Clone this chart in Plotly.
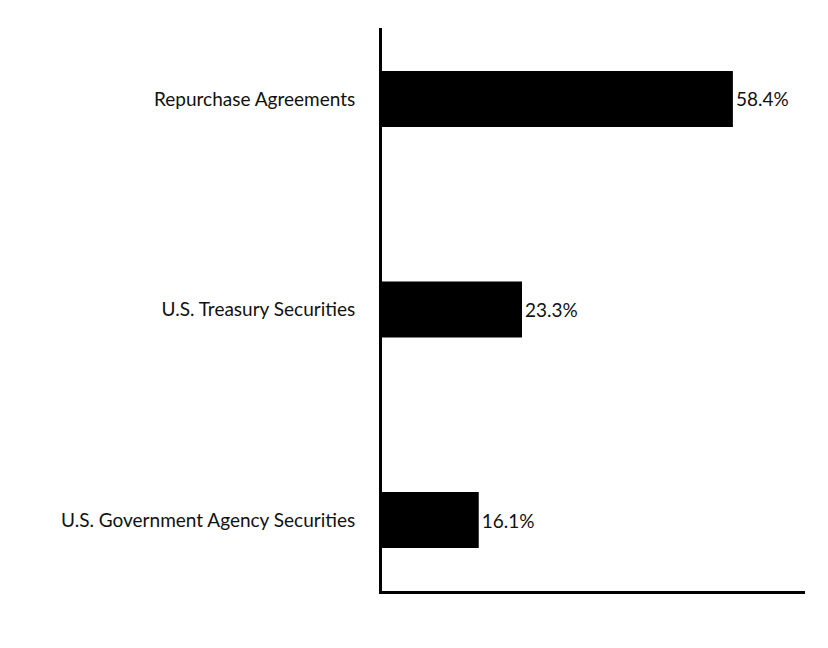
import plotly.graph_objects as go

categories = ["Repurchase Agreements", "U.S. Treasury Securities", "U.S. Government Agency Securities"]
values = [58.4, 23.3, 16.1]
labels = ["58.4%", "23.3%", "16.1%"]

fig = go.Figure(go.Bar(
    x=values, y=categories, orientation="h",
    marker=dict(color="black", line=dict(width=0)),
    width=0.266,
    text=labels, textposition="outside", cliponaxis=False,
    textfont=dict(size=19, color="#111"),
))
fig.update_layout(
    width=828, height=648,
    margin=dict(l=374, r=31, t=20, b=65),
    plot_bgcolor="white", paper_bgcolor="white",
    font=dict(family="Lato, Noto Sans, sans-serif", size=19, color="#111"),
    showlegend=False,
)
fig.update_xaxes(range=[0, 70.4], showgrid=False, showticklabels=False, ticks="",
                 showline=True, linecolor="black", linewidth=3, zeroline=False)
fig.update_yaxes(range=[2.337, -0.337], showgrid=False, ticks="", ticklabelstandoff=20,
                 showline=True, linecolor="black", linewidth=3, zeroline=False)
fig.write_html("out.html")
